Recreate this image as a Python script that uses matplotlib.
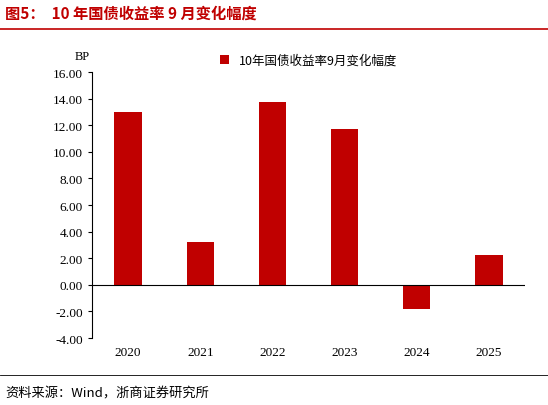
import matplotlib
matplotlib.use("Agg")
import matplotlib.pyplot as plt

plt.rcParams['font.family'] = ['Noto Sans CJK SC', 'DejaVu Sans']

years = ["2020", "2021", "2022", "2023", "2024", "2025"]
values = [13.0, 3.25, 13.75, 11.75, -1.8, 2.25]
yticks = [-4, -2, 0, 2, 4, 6, 8, 10, 12, 14, 16]

fig = plt.figure(figsize=(5.48, 4.06), dpi=100)
ax = fig.add_axes([0.168, 0.165, 0.79, 0.655])
x = range(len(years))
ax.bar(x, values, width=0.38, color="#C00000", label="10年国债收益率9月变化幅度", zorder=3)
ax.set_ylim(-4, 16)
ax.set_yticks(yticks)
ax.set_yticklabels([f"{v:.2f}" for v in yticks], fontsize=9.5, family=['Liberation Serif'])
ax.set_xlim(-0.5, len(years) - 0.5)
ax.set_xticks(list(x))
ax.set_xticklabels(years, fontsize=9.5, family=['Liberation Serif'])
ax.tick_params(axis='x', length=0, pad=6)
ax.tick_params(axis='y', direction='out', length=3)
for s in ['top', 'right', 'bottom']:
    ax.spines[s].set_visible(False)
ax.axhline(0, color='black', lw=0.8, zorder=4)
ax.text(-0.04, 1.05, "BP", transform=ax.transAxes, fontsize=9, family=['Liberation Serif'])
ax.legend(loc='upper center', bbox_to_anchor=(0.5, 1.11), frameon=False, fontsize=9,
          handlelength=0.7, handleheight=0.7)

fig.text(0.01, 0.955, "图5：  10 年国债收益率 9 月变化幅度", color="#C00000", fontsize=11, fontweight='bold')
fig.add_artist(plt.Line2D([0.0, 1.0], [0.925, 0.925], color="#C00000", lw=1.2))
fig.add_artist(plt.Line2D([0.0, 1.0], [0.075, 0.075], color="black", lw=0.6))
fig.text(0.01, 0.02, "资料来源：Wind，浙商证券研究所", fontsize=9.5)
fig.savefig("out.png", dpi=100)
